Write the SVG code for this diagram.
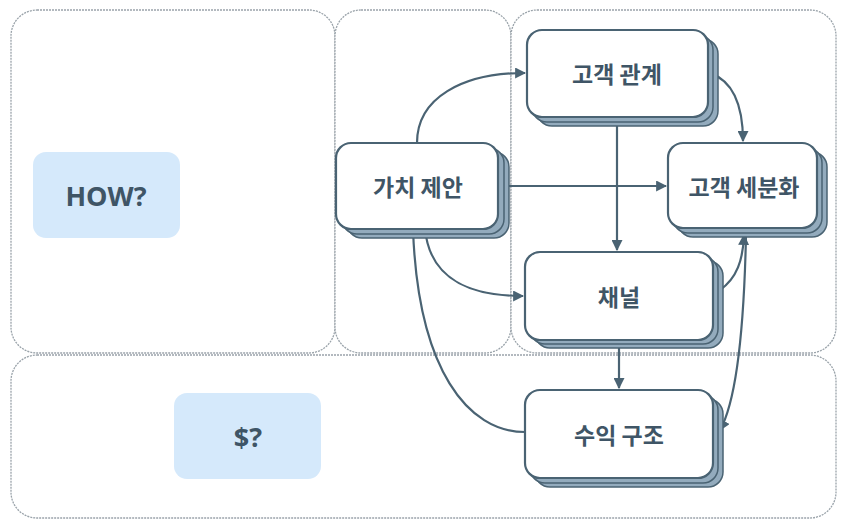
<svg xmlns="http://www.w3.org/2000/svg" width="847" height="529" viewBox="0 0 847 529">
<style>
.panel{fill:#fff;stroke:#9aa3aa;stroke-width:1.3;stroke-dasharray:2 1}
.back{fill:#93abbd;stroke:#4a6373;stroke-width:1.5}
.front{fill:#fff;stroke:#4a6373;stroke-width:2.2}
.lbl{font-family:"Noto Sans CJK KR","Noto Sans",sans-serif;font-weight:bold;font-size:23px;fill:#3f5566;text-anchor:middle;dominant-baseline:central}
.tag{fill:#d5e9fb}
.tagt{font-family:"Open Sans","Liberation Sans",sans-serif;font-weight:bold;font-size:27px;fill:#3f5566;text-anchor:middle;dominant-baseline:central}
.edge{fill:none;stroke:#4a6373;stroke-width:2.2}
</style>
<defs>
<marker id="arr" viewBox="0 0 10 10" refX="9" refY="5" markerWidth="11" markerHeight="11" markerUnits="userSpaceOnUse" orient="auto"><path d="M0,0 L10,5 L0,10 z" fill="#4a6373"/></marker>
</defs>
<rect width="847" height="529" fill="#fff"/>
<g id="panels">
<rect class="panel" x="11" y="10" width="324" height="343" rx="26"/>
<rect class="panel" x="335" y="10" width="176" height="343" rx="26"/>
<rect class="panel" x="511" y="10" width="325" height="343" rx="26"/>
<rect class="panel" x="11" y="355" width="825" height="163" rx="26"/>
</g>
<g id="how">
<rect class="tag" x="33" y="152" width="147" height="86" rx="13"/>
<text class="tagt" x="106" y="195">HOW?</text>
</g>
<g id="money">
<rect class="tag" x="174" y="393" width="147" height="86" rx="13"/>
<text class="tagt" x="248" y="436">$?</text>
</g>
<g id="connectors">
<path class="edge" d="M417,143 C417,98 462,73 525,73" marker-end="url(#arr)"/>
<path class="edge" d="M500,186 L666,186" marker-end="url(#arr)"/>
<path class="edge" d="M617,117 L617,250" marker-end="url(#arr)"/>
<path class="edge" d="M710,73 C736,82 743,112 743,141" marker-end="url(#arr)"/>
<path class="edge" d="M425,229 C430,280 470,296 523,296" marker-end="url(#arr)"/>
<path class="edge" d="M413,229 C418,370 468,432 525,432"/>
<path class="edge" d="M619,340 L619,388" marker-end="url(#arr)"/>
<path class="edge" d="M720,290 C737,278 743,260 744,235" marker-end="url(#arr)"/>
<path class="edge" d="M746,235 C744,330 737,400 720,430" marker-end="url(#arr)"/>
</g>
<g id="value">
<rect class="back" x="347" y="152" width="162" height="86" rx="15"/>
<rect class="back" x="342" y="148" width="162" height="86" rx="15"/>
<rect class="front" x="336" y="143" width="162" height="86" rx="15"/>
<text class="lbl" x="418" y="186">가치 제안</text>
</g>
<g id="relation">
<rect class="back" x="537" y="39" width="181" height="87" rx="15"/>
<rect class="back" x="532" y="35" width="181" height="87" rx="15"/>
<rect class="front" x="527" y="30" width="181" height="87" rx="15"/>
<text class="lbl" x="617" y="73">고객 관계</text>
</g>
<g id="segment">
<rect class="back" x="678" y="152" width="149" height="85" rx="15"/>
<rect class="back" x="673" y="148" width="149" height="85" rx="15"/>
<rect class="front" x="668" y="143" width="149" height="85" rx="15"/>
<text class="lbl" x="744" y="186">고객 세분화</text>
</g>
<g id="channel">
<rect class="back" x="535" y="261" width="188" height="87" rx="15"/>
<rect class="back" x="530" y="257" width="188" height="87" rx="15"/>
<rect class="front" x="525" y="252" width="188" height="88" rx="15"/>
<text class="lbl" x="619" y="296">채널</text>
</g>
<g id="revenue">
<rect class="back" x="535" y="399" width="188" height="88" rx="15"/>
<rect class="back" x="530" y="395" width="188" height="88" rx="15"/>
<rect class="front" x="525" y="390" width="188" height="88" rx="15"/>
<text class="lbl" x="619" y="434">수익 구조</text>
</g>
</svg>
